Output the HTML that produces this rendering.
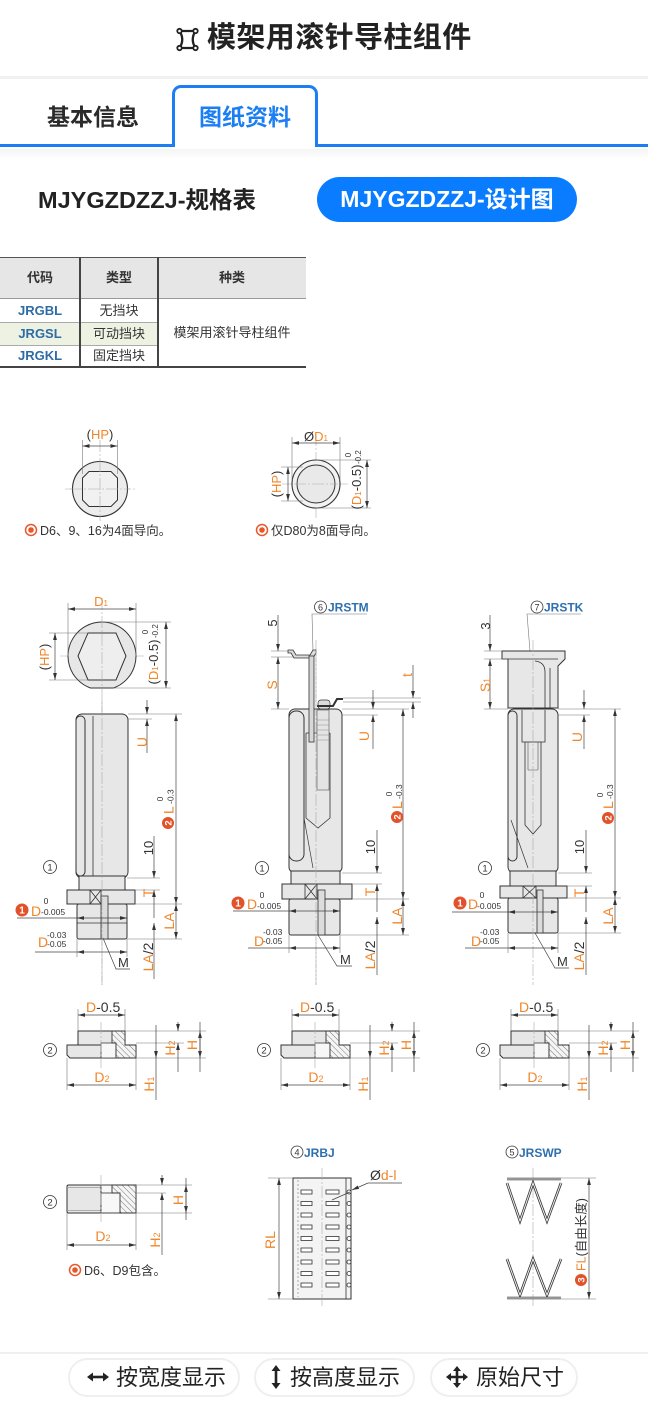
<!DOCTYPE html>
<html><head><meta charset="utf-8"><title>模架用滚针导柱组件</title>
<style>
*{margin:0;padding:0;box-sizing:border-box}
html,body{width:648px;height:1402px;background:#fff;overflow:hidden}
body{position:relative;font-family:"Liberation Sans","Noto Sans CJK SC",sans-serif;color:#222}
.a{position:absolute;white-space:nowrap}
.t{top:23px;left:207px;font-size:29px;line-height:30px;font-weight:bold;letter-spacing:0.4px;color:#222}
.sep{left:0;top:76px;width:648px;height:3px;background:#f1f1f1}
.tab1{left:47px;top:105px;font-size:23px;line-height:24px;font-weight:bold;color:#2a2a2a}
.bl{left:0;top:144px;width:648px;height:3px;background:#1b7ef2}
.tabbox{left:172px;top:85px;width:146px;height:62px;border:3px solid #1b7ef2;border-bottom:none;border-radius:9px 9px 0 0;background:#fff}
.tab2{left:199px;top:105px;font-size:23px;line-height:24px;font-weight:bold;color:#1b7ef2}
.sub{left:38px;top:188px;font-size:23.5px;line-height:24px;font-weight:bold;color:#222}
.pill{left:317px;top:177px;width:260px;height:45px;border-radius:23px;background:#0a7cff;color:#fff;font-size:23px;font-weight:bold;line-height:45px;text-align:center}
.cell{font-size:13px;line-height:14px;text-align:center;color:#333}
.btn{top:1358px;height:39px;border:2px solid #efefef;border-radius:20px;background:#fff}
.bt{font-size:22px;line-height:24px;color:#222}
svg text{font-family:"Liberation Sans","Noto Sans CJK SC",sans-serif}
</style></head><body>

<!-- header -->
<svg class="a" style="left:175px;top:27px" width="26" height="26" viewBox="175 27 26 26">
<path d="M179.5,31 L195.5,31 Q190,39.5 195.5,48 L179.5,48 Q185,39.5 179.5,31Z" fill="none" stroke="#222" stroke-width="2.3"/>
<circle cx="179.5" cy="31" r="2.2" fill="#fff" stroke="#222" stroke-width="1.8"/>
<circle cx="195.5" cy="31" r="2.2" fill="#fff" stroke="#222" stroke-width="1.8"/>
<circle cx="179.5" cy="48" r="2.2" fill="#fff" stroke="#222" stroke-width="1.8"/>
<circle cx="195.5" cy="48" r="2.2" fill="#fff" stroke="#222" stroke-width="1.8"/>
</svg>
<div class="a t">模架用滚针导柱组件</div>
<div class="a sep"></div>
<div class="a tab1">基本信息</div>
<div class="a bl"></div>
<div class="a tabbox"></div>
<div class="a tab2">图纸资料</div>
<div class="a" style="left:0;top:149px;width:648px;height:10px;background:linear-gradient(#f4f4f4,#fff)"></div>
<div class="a sub">MJYGZDZZJ-规格表</div>
<div class="a pill">MJYGZDZZJ-设计图</div>

<!-- table -->
<div class="a" style="left:0;top:257px;width:306px;height:42px;background:#e6e6e6;border-top:1.5px solid #555;border-bottom:1px solid #999"></div>
<div class="a" style="left:0;top:322px;width:158px;height:23px;background:#eef2e3"></div>
<div class="a" style="left:0;top:322px;width:158px;height:1px;background:#aaa"></div>
<div class="a" style="left:0;top:345px;width:158px;height:1px;background:#aaa"></div>
<div class="a" style="left:0;top:366px;width:306px;height:2px;background:#444"></div>
<div class="a" style="left:79px;top:257px;width:1.5px;height:110px;background:#444"></div>
<div class="a" style="left:157px;top:257px;width:1.5px;height:110px;background:#444"></div>
<div class="a cell" style="left:0;top:271px;width:80px;font-weight:bold">代码</div>
<div class="a cell" style="left:80px;top:271px;width:78px;font-weight:bold">类型</div>
<div class="a cell" style="left:158px;top:271px;width:148px;font-weight:bold">种类</div>
<div class="a cell" style="left:0;top:304px;width:80px;font-weight:bold;color:#2d6ca5">JRGBL</div>
<div class="a cell" style="left:0;top:327px;width:80px;font-weight:bold;color:#2d6ca5">JRGSL</div>
<div class="a cell" style="left:0;top:349px;width:80px;font-weight:bold;color:#2d6ca5">JRGKL</div>
<div class="a cell" style="left:80px;top:304px;width:78px">无挡块</div>
<div class="a cell" style="left:80px;top:327px;width:78px">可动挡块</div>
<div class="a cell" style="left:80px;top:349px;width:78px">固定挡块</div>
<div class="a cell" style="left:158px;top:326px;width:148px">模架用滚针导柱组件</div>

<!-- drawings -->
<svg class="a" style="left:0;top:0" width="648" height="1402" viewBox="0 0 648 1402">
<defs>
<marker id="ar" viewBox="0 0 10 10" refX="10" refY="5" markerUnits="userSpaceOnUse" markerWidth="7" markerHeight="7" orient="auto-start-reverse"><path d="M0,2.3 L10,5 L0,7.7z" fill="#333"/></marker>
<pattern id="h" width="4" height="4" patternUnits="userSpaceOnUse" patternTransform="rotate(-45)"><rect width="4" height="4" fill="#f5f5f5"/><line x1="0" y1="0" x2="0" y2="4" stroke="#555" stroke-width="0.8"/></pattern>
<style>
.o{fill:#f0862a}.k{fill:#333}
.d{stroke:#444;stroke-width:.7;fill:none}
.e{stroke:#777;stroke-width:.6;fill:none}
.c{stroke:#aaa;stroke-width:.6;fill:none;stroke-dasharray:12 2 2 2}
.p{fill:#e7e7e7;stroke:#333;stroke-width:1}
.w{fill:none;stroke:#333;stroke-width:.8}
.bn{fill:#2e6fb0;font-weight:bold;font-size:12px}
</style>
</defs>

<!-- ===== top views ===== -->
<line class="c" x1="65" y1="489" x2="136" y2="489"/>
<line class="c" x1="100" y1="440" x2="100" y2="521"/>
<circle cx="100" cy="489" r="27.5" fill="#ececec" stroke="#333" stroke-width="1.1"/>
<polygon points="89,471.5 111,471.5 117.5,478 117.5,500 111,506.5 89,506.5 82.5,500 82.5,478" fill="#f1f1f1" stroke="#333" stroke-width="1"/>
<line class="c" x1="70" y1="489" x2="130" y2="489"/>
<line class="c" x1="100" y1="460" x2="100" y2="518"/>
<line class="e" x1="82.5" y1="440" x2="82.5" y2="474"/>
<line class="e" x1="117.5" y1="440" x2="117.5" y2="474"/>
<line class="d" x1="82.5" y1="446" x2="117.5" y2="446" marker-start="url(#ar)" marker-end="url(#ar)"/>
<text x="100" y="439" text-anchor="middle" font-size="13" class="k">(<tspan class="o">HP</tspan>)</text>
<circle cx="31" cy="530" r="5.5" fill="none" stroke="#e8572a" stroke-width="1.5"/><circle cx="31" cy="530" r="2.8" fill="#e8572a"/>
<text x="40" y="535" font-size="12.5" class="k">D6、9、16为4面导向。</text>

<line class="c" x1="282" y1="484" x2="348" y2="484"/>
<line class="c" x1="316" y1="434" x2="316" y2="518"/>
<circle cx="316" cy="484" r="24" fill="#f2f2f2" stroke="#333" stroke-width="1.1"/>
<circle cx="316" cy="484" r="19" fill="#e9e9e9" stroke="#333" stroke-width="1"/>
<line class="c" x1="294" y1="484" x2="338" y2="484"/>
<line class="e" x1="292" y1="437" x2="292" y2="480"/>
<line class="e" x1="340" y1="437" x2="340" y2="480"/>
<line class="d" x1="292" y1="443" x2="340" y2="443" marker-start="url(#ar)" marker-end="url(#ar)"/>
<text x="316" y="441" text-anchor="middle" font-size="13" class="k">Ø<tspan class="o">D<tspan font-size="8">1</tspan></tspan></text>
<line class="e" x1="316" y1="460" x2="371" y2="460"/>
<line class="e" x1="316" y1="508" x2="371" y2="508"/>
<line class="d" x1="367" y1="460" x2="367" y2="508" marker-start="url(#ar)" marker-end="url(#ar)"/>
<text transform="translate(361 487) rotate(-90)" text-anchor="middle" font-size="13" class="k">(<tspan class="o">D<tspan font-size="8">1</tspan></tspan>-0.5)</text>
<text transform="translate(351 455) rotate(-90)" text-anchor="middle" font-size="8" class="k">0</text>
<text transform="translate(361 464) rotate(-90)" font-size="8" class="k">-0.2</text>
<line class="e" x1="281" y1="467" x2="303" y2="467"/>
<line class="e" x1="281" y1="501" x2="303" y2="501"/>
<line class="d" x1="288" y1="467" x2="288" y2="501" marker-start="url(#ar)" marker-end="url(#ar)"/>
<text transform="translate(281 484) rotate(-90)" text-anchor="middle" font-size="13" class="k">(<tspan class="o">HP</tspan>)</text>
<circle cx="262" cy="530" r="5.5" fill="none" stroke="#e8572a" stroke-width="1.5"/><circle cx="262" cy="530" r="2.8" fill="#e8572a"/>
<text x="271" y="535" font-size="12.5" class="k">仅D80为8面导向。</text>

<!-- ===== Column 1 ===== -->
<line class="c" x1="60" y1="656" x2="146" y2="656"/>
<path class="p" d="M90.5 688 A34 34 0 1 1 113.5 688 Z" fill="#ebebeb"/>
<polygon points="78,656 88,633 116,633 126,656 116,680 88,680" fill="#eeeeee" stroke="#333" stroke-width="1"/>
<line class="c" x1="102" y1="598" x2="102" y2="985"/>
<line class="e" x1="68" y1="603" x2="68" y2="656"/><line class="e" x1="136" y1="603" x2="136" y2="656"/>
<line class="d" x1="68" y1="609" x2="136" y2="609" marker-start="url(#ar)" marker-end="url(#ar)"/>
<text x="101" y="606" text-anchor="middle" font-size="13" class="o">D<tspan font-size="8">1</tspan></text>
<line class="e" x1="49" y1="633" x2="88" y2="633"/><line class="e" x1="49" y1="680" x2="88" y2="680"/>
<line class="d" x1="55" y1="633" x2="55" y2="680" marker-start="url(#ar)" marker-end="url(#ar)"/>
<text transform="translate(49 657) rotate(-90)" text-anchor="middle" font-size="13" class="k">(<tspan class="o">HP</tspan>)</text>
<line class="e" x1="102" y1="622" x2="171" y2="622"/><line class="e" x1="113" y1="688" x2="171" y2="688"/>
<line class="d" x1="166" y1="622" x2="166" y2="688" marker-start="url(#ar)" marker-end="url(#ar)"/>
<text transform="translate(158 662) rotate(-90)" text-anchor="middle" font-size="13" class="k">(<tspan class="o">D<tspan font-size="8">1</tspan></tspan>-0.5)</text>
<text transform="translate(148 632) rotate(-90)" text-anchor="middle" font-size="8" class="k">0</text>
<text transform="translate(158 638) rotate(-90)" font-size="8" class="k">-0.2</text>

<rect class="p" x="76" y="714" width="52" height="164" rx="6"/>
<rect class="p" x="76" y="716" width="9" height="160" rx="4.5"/>
<line x1="93" y1="716" x2="93" y2="876" stroke="#333" stroke-width=".8"/>
<rect class="p" x="79" y="876" width="46" height="15"/>
<rect class="p" x="67" y="890" width="68" height="14"/>
<rect x="90" y="890" width="11" height="14" class="w"/><path d="M90 890 L101 904 M101 890 L90 904" class="w"/>
<rect class="p" x="77" y="904" width="50" height="35" rx="2"/>
<rect x="101" y="896" width="7" height="43" fill="#dcdcdc" stroke="#333" stroke-width=".8"/>
<line x1="77" y1="923" x2="127" y2="923" stroke="#333" stroke-width=".7"/>
<line class="c" x1="102" y1="700" x2="102" y2="985"/>
<!-- dims col1 -->
<line class="e" x1="128" y1="714" x2="182" y2="714"/>
<line class="e" x1="135" y1="904" x2="182" y2="904"/>
<line class="e" x1="127" y1="939" x2="182" y2="939"/>
<line class="e" x1="127" y1="878" x2="160" y2="878"/>
<line class="e" x1="135" y1="890" x2="160" y2="890"/>
<line class="d" x1="176" y1="714" x2="176" y2="904" marker-start="url(#ar)" marker-end="url(#ar)"/>
<line class="d" x1="176" y1="904" x2="176" y2="939" marker-start="url(#ar)" marker-end="url(#ar)"/>
<line class="d" x1="147" y1="700" x2="147" y2="714" marker-end="url(#ar)"/>
<line class="d" x1="147" y1="719" x2="147" y2="753" marker-start="url(#ar)"/>
<line class="e" x1="128" y1="719" x2="152" y2="719"/>
<text transform="translate(147 742) rotate(-90)" text-anchor="middle" font-size="14" class="o">U</text>
<line class="d" x1="154" y1="836" x2="154" y2="878" marker-end="url(#ar)"/>
<line class="d" x1="154" y1="890" x2="154" y2="904" marker-start="url(#ar)"/>
<line class="d" x1="154" y1="904" x2="154" y2="918"/>
<line class="d" x1="154" y1="923" x2="154" y2="979" marker-start="url(#ar)"/>
<text transform="translate(153 848) rotate(-90)" text-anchor="middle" font-size="13" class="k">10</text>
<text transform="translate(153 893) rotate(-90)" text-anchor="middle" font-size="14" class="o">T</text>
<text transform="translate(153 957) rotate(-90)" text-anchor="middle" font-size="14" class="o">LA<tspan class="k">/2</tspan></text>
<text transform="translate(174 921) rotate(-90)" text-anchor="middle" font-size="14" class="o">LA</text>
<circle cx="168" cy="823" r="6" fill="#e2522a"/><text transform="translate(171.5 823) rotate(-90)" text-anchor="middle" font-size="9.5" font-weight="bold" fill="#fff">2</text>
<text transform="translate(173.5 814) rotate(-90)" font-size="14" class="o">L</text>
<text transform="translate(173.5 804) rotate(-90)" font-size="8.5" class="k">-0.3</text>
<text transform="translate(163 799) rotate(-90)" text-anchor="middle" font-size="8.5" class="k">0</text>
<circle cx="50" cy="867" r="6.5" class="w"/><text x="50" y="870.5" text-anchor="middle" font-size="9.5" class="k">1</text>
<circle cx="22" cy="910" r="6.5" fill="#e2522a"/><text x="22" y="913.5" text-anchor="middle" font-size="10" font-weight="bold" fill="#fff">1</text>
<text x="31" y="916" font-size="14" class="o">D</text>
<text x="46" y="904" text-anchor="middle" font-size="8.5" class="k">0</text>
<text x="41" y="915" font-size="8.5" class="k">-0.005</text>
<line class="d" x1="17" y1="918" x2="77" y2="918"/>
<line class="d" x1="77" y1="918" x2="127" y2="918" marker-start="url(#ar)" marker-end="url(#ar)"/>
<text x="38" y="947" font-size="14" class="o">D</text>
<text x="47" y="938" font-size="8.5" class="k">-0.03</text>
<text x="47" y="947" font-size="8.5" class="k">-0.05</text>
<line class="e" x1="77" y1="939" x2="77" y2="957"/><line class="e" x1="127" y1="939" x2="127" y2="957"/>
<line class="d" x1="35" y1="952" x2="77" y2="952"/>
<line class="d" x1="77" y1="952" x2="127" y2="952" marker-start="url(#ar)" marker-end="url(#ar)"/>
<polyline points="103,938 116,969 130,969" class="d"/>
<text x="118" y="967" font-size="13" class="k">M</text>

<!-- ===== Column 2 ===== -->
<line class="c" x1="316" y1="640" x2="316" y2="985"/>
<circle cx="320.5" cy="607" r="6" class="w"/><text x="320.5" y="610.5" text-anchor="middle" font-size="9" class="k">6</text>
<text x="328" y="611.5" class="bn">JRSTM</text>
<polyline points="367,614 312,614 313,651" class="e"/>
<polygon points="288,650 293,650 296,655 310,655 313,650 316,650 316,653 313,658 294,658 291,653 288,653" fill="#dcdcdc" stroke="#333" stroke-width=".8"/>
<rect class="p" x="289" y="709" width="53" height="164" rx="6"/>
<rect class="p" x="289" y="711" width="15" height="150" rx="7"/>
<path d="M306 733 L306 818 L318 828 L330 818 L330 733" class="w" fill="#e0e0e0"/>
<line x1="306" y1="733" x2="330" y2="733" stroke="#333" stroke-width=".8"/>
<rect x="317" y="710" width="12" height="80" fill="#e4e4e4" stroke="#555" stroke-width=".6"/>
<path d="M317 720h12M317 725h12M317 730h12M317 735h12M317 740h12" stroke="#777" stroke-width=".4"/>
<rect x="309" y="656" width="5" height="86" fill="#d8d8d8" stroke="#333" stroke-width=".8"/>
<rect x="318" y="700" width="12" height="9" rx="3" fill="#ddd" stroke="#333" stroke-width=".7"/>
<polyline points="317,706 333,706 337,699 343,699" fill="none" stroke="#333" stroke-width="2"/>
<line x1="304" y1="818" x2="313" y2="868" stroke="#333" stroke-width=".7"/>
<rect class="p" x="291" y="871" width="49" height="14"/>
<rect class="p" x="282" y="884" width="70" height="15"/>
<rect x="305" y="884" width="12" height="15" class="w"/><path d="M305 884 L317 899 M317 884 L305 899" class="w"/>
<rect class="p" x="289" y="899" width="51" height="36" rx="2"/>
<rect x="318" y="890" width="7" height="45" fill="#dcdcdc" stroke="#333" stroke-width=".8"/>
<line class="c" x1="316" y1="650" x2="316" y2="985"/>
<!-- dims col2 -->
<line class="e" x1="271" y1="651" x2="288" y2="651"/>
<line class="e" x1="271" y1="657" x2="293" y2="657"/>
<line class="e" x1="271" y1="709" x2="289" y2="709"/>
<line class="d" x1="278" y1="615" x2="278" y2="651" marker-end="url(#ar)"/>
<line class="d" x1="278" y1="657" x2="278" y2="709" marker-start="url(#ar)" marker-end="url(#ar)"/>
<text transform="translate(277 623) rotate(-90)" text-anchor="middle" font-size="13" class="k">5</text>
<text transform="translate(277 685) rotate(-90)" text-anchor="middle" font-size="14" class="o">S</text>
<line class="e" x1="343" y1="698" x2="421" y2="698"/>
<line class="e" x1="343" y1="702" x2="421" y2="702"/>
<line class="e" x1="342" y1="709" x2="409" y2="709"/>
<line class="d" x1="413" y1="665" x2="413" y2="698" marker-end="url(#ar)"/>
<line class="d" x1="413" y1="702" x2="413" y2="718" marker-start="url(#ar)"/>
<text transform="translate(412 675) rotate(-90)" text-anchor="middle" font-size="14" class="o">t</text>
<line class="d" x1="373" y1="690" x2="373" y2="709" marker-end="url(#ar)"/>
<line class="d" x1="373" y1="715" x2="373" y2="749" marker-start="url(#ar)"/>
<line class="e" x1="342" y1="715" x2="378" y2="715"/>
<text transform="translate(369 736) rotate(-90)" text-anchor="middle" font-size="14" class="o">U</text>
<line class="e" x1="342" y1="873" x2="382" y2="873"/>
<line class="e" x1="352" y1="884" x2="382" y2="884"/>
<line class="e" x1="352" y1="899" x2="409" y2="899"/>
<line class="e" x1="340" y1="935" x2="409" y2="935"/>
<line class="d" x1="403" y1="709" x2="403" y2="899" marker-start="url(#ar)" marker-end="url(#ar)"/>
<line class="d" x1="403" y1="899" x2="403" y2="935" marker-start="url(#ar)" marker-end="url(#ar)"/>
<line class="d" x1="377" y1="830" x2="377" y2="873" marker-end="url(#ar)"/>
<line class="d" x1="377" y1="884" x2="377" y2="899" marker-start="url(#ar)"/>
<line class="d" x1="377" y1="899" x2="377" y2="912"/>
<line class="d" x1="377" y1="917" x2="377" y2="975" marker-start="url(#ar)"/>
<text transform="translate(375 847) rotate(-90)" text-anchor="middle" font-size="13" class="k">10</text>
<text transform="translate(375 892) rotate(-90)" text-anchor="middle" font-size="14" class="o">T</text>
<text transform="translate(375 955) rotate(-90)" text-anchor="middle" font-size="14" class="o">LA<tspan class="k">/2</tspan></text>
<text transform="translate(402 916) rotate(-90)" text-anchor="middle" font-size="14" class="o">LA</text>
<circle cx="397" cy="817" r="6" fill="#e2522a"/><text transform="translate(400.5 817) rotate(-90)" text-anchor="middle" font-size="9.5" font-weight="bold" fill="#fff">2</text>
<text transform="translate(402 809) rotate(-90)" font-size="14" class="o">L</text>
<text transform="translate(402 799) rotate(-90)" font-size="8.5" class="k">-0.3</text>
<text transform="translate(392 794) rotate(-90)" text-anchor="middle" font-size="8.5" class="k">0</text>
<circle cx="262" cy="868" r="6.5" class="w"/><text x="262" y="871.5" text-anchor="middle" font-size="9.5" class="k">1</text>
<circle cx="238" cy="903" r="6.5" fill="#e2522a"/><text x="238" y="906.5" text-anchor="middle" font-size="10" font-weight="bold" fill="#fff">1</text>
<text x="247" y="909" font-size="14" class="o">D</text>
<text x="262" y="898" text-anchor="middle" font-size="8.5" class="k">0</text>
<text x="257" y="909" font-size="8.5" class="k">-0.005</text>
<line class="d" x1="233" y1="911" x2="289" y2="911"/>
<line class="d" x1="289" y1="911" x2="340" y2="911" marker-start="url(#ar)" marker-end="url(#ar)"/>
<text x="254" y="946" font-size="14" class="o">D</text>
<text x="263" y="935" font-size="8.5" class="k">-0.03</text>
<text x="263" y="944" font-size="8.5" class="k">-0.05</text>
<line class="e" x1="289" y1="935" x2="289" y2="953"/><line class="e" x1="340" y1="935" x2="340" y2="953"/>
<line class="d" x1="248" y1="948" x2="289" y2="948"/>
<line class="d" x1="289" y1="948" x2="340" y2="948" marker-start="url(#ar)" marker-end="url(#ar)"/>
<polyline points="318,935 337,966 352,966" class="d"/>
<text x="340" y="964" font-size="13" class="k">M</text>

<!-- ===== Column 3 ===== -->
<circle cx="537" cy="607" r="6" class="w"/><text x="537" y="610.5" text-anchor="middle" font-size="9" class="k">7</text>
<text x="544" y="611.5" class="bn">JRSTK</text>
<polyline points="581,614 527,614 530,651" class="e"/>
<rect class="p" x="508" y="709" width="50" height="164" rx="6"/>
<rect class="p" x="508" y="711" width="9" height="150" rx="4.5"/>
<path d="M522 710 L522 742 L525 742 L525 825 L533 834 L541 825 L541 742 L545 742 L545 710" class="w" fill="#e0e0e0"/>
<line x1="525" y1="742" x2="541" y2="742" stroke="#333" stroke-width=".8"/>
<path d="M528 742V770M538 742V770M528 770h10" stroke="#555" stroke-width=".6" fill="none"/>
<line x1="511" y1="820" x2="528" y2="868" stroke="#333" stroke-width=".7"/>
<polygon class="p" points="502,651 565,651 565,659 558,666 558,708 508,708 508,659 502,659"/>
<line x1="508" y1="659" x2="558" y2="659" stroke="#333" stroke-width=".8"/>
<path d="M545 708V672 Q545 662 535 661M550 708V668" class="w"/>
<rect class="p" x="510" y="871" width="46" height="15"/>
<rect class="p" x="500" y="886" width="67" height="12"/>
<rect x="523" y="886" width="13" height="12" class="w"/><path d="M523 886 L536 898 M536 886 L523 898" class="w"/>
<rect class="p" x="508" y="898" width="50" height="35" rx="2"/>
<rect x="537" y="890" width="6" height="43" fill="#dcdcdc" stroke="#333" stroke-width=".8"/>
<line class="c" x1="533" y1="640" x2="533" y2="985"/>
<!-- dims col3 -->
<line class="e" x1="484" y1="651" x2="502" y2="651"/>
<line class="e" x1="484" y1="659" x2="508" y2="659"/>
<line class="e" x1="484" y1="709" x2="508" y2="709"/>
<line class="d" x1="490" y1="615" x2="490" y2="651" marker-end="url(#ar)"/>
<line class="d" x1="490" y1="659" x2="490" y2="709" marker-start="url(#ar)" marker-end="url(#ar)"/>
<text transform="translate(490 626) rotate(-90)" text-anchor="middle" font-size="13" class="k">3</text>
<text transform="translate(490 685) rotate(-90)" text-anchor="middle" font-size="14" class="o">S<tspan font-size="9">1</tspan></text>
<line class="e" x1="558" y1="709" x2="621" y2="709"/>
<line class="e" x1="558" y1="715" x2="590" y2="715"/>
<line class="d" x1="584" y1="690" x2="584" y2="709" marker-end="url(#ar)"/>
<line class="d" x1="584" y1="715" x2="584" y2="749" marker-start="url(#ar)"/>
<text transform="translate(582 737) rotate(-90)" text-anchor="middle" font-size="14" class="o">U</text>
<line class="e" x1="558" y1="873" x2="592" y2="873"/>
<line class="e" x1="567" y1="886" x2="592" y2="886"/>
<line class="e" x1="567" y1="898" x2="621" y2="898"/>
<line class="e" x1="558" y1="933" x2="621" y2="933"/>
<line class="d" x1="615" y1="709" x2="615" y2="898" marker-start="url(#ar)" marker-end="url(#ar)"/>
<line class="d" x1="615" y1="898" x2="615" y2="933" marker-start="url(#ar)" marker-end="url(#ar)"/>
<line class="d" x1="586" y1="830" x2="586" y2="873" marker-end="url(#ar)"/>
<line class="d" x1="586" y1="886" x2="586" y2="898" marker-start="url(#ar)"/>
<line class="d" x1="586" y1="898" x2="586" y2="912"/>
<line class="d" x1="586" y1="917" x2="586" y2="975" marker-start="url(#ar)"/>
<text transform="translate(584 847) rotate(-90)" text-anchor="middle" font-size="13" class="k">10</text>
<text transform="translate(584 893) rotate(-90)" text-anchor="middle" font-size="14" class="o">T</text>
<text transform="translate(584 956) rotate(-90)" text-anchor="middle" font-size="14" class="o">LA<tspan class="k">/2</tspan></text>
<text transform="translate(613 916) rotate(-90)" text-anchor="middle" font-size="14" class="o">LA</text>
<circle cx="608" cy="818" r="6" fill="#e2522a"/><text transform="translate(611.5 818) rotate(-90)" text-anchor="middle" font-size="9.5" font-weight="bold" fill="#fff">2</text>
<text transform="translate(613 809) rotate(-90)" font-size="14" class="o">L</text>
<text transform="translate(613 799) rotate(-90)" font-size="8.5" class="k">-0.3</text>
<text transform="translate(603 795) rotate(-90)" text-anchor="middle" font-size="8.5" class="k">0</text>
<circle cx="485" cy="868" r="6.5" class="w"/><text x="485" y="871.5" text-anchor="middle" font-size="9.5" class="k">1</text>
<circle cx="460" cy="903" r="6.5" fill="#e2522a"/><text x="460" y="906.5" text-anchor="middle" font-size="10" font-weight="bold" fill="#fff">1</text>
<text x="468" y="909" font-size="14" class="o">D</text>
<text x="482" y="898" text-anchor="middle" font-size="8.5" class="k">0</text>
<text x="477" y="909" font-size="8.5" class="k">-0.005</text>
<line class="d" x1="452" y1="912" x2="508" y2="912"/>
<line class="d" x1="508" y1="912" x2="558" y2="912" marker-start="url(#ar)" marker-end="url(#ar)"/>
<text x="471" y="946" font-size="14" class="o">D</text>
<text x="480" y="935" font-size="8.5" class="k">-0.03</text>
<text x="480" y="944" font-size="8.5" class="k">-0.05</text>
<line class="e" x1="508" y1="933" x2="508" y2="953"/><line class="e" x1="558" y1="933" x2="558" y2="953"/>
<line class="d" x1="465" y1="948" x2="508" y2="948"/>
<line class="d" x1="508" y1="948" x2="558" y2="948" marker-start="url(#ar)" marker-end="url(#ar)"/>
<polyline points="535,933 555,968 569,968" class="d"/>
<text x="557" y="966" font-size="13" class="k">M</text>

<!-- ===== Washers row ===== -->
<g>
<circle cx="50" cy="1050" r="6.5" class="w"/><text x="50" y="1053.5" text-anchor="middle" font-size="9.5" class="k">2</text>
<path d="M67,1045 L136,1045 L136,1058 L70,1058 L67,1055Z" class="p"/>
<rect class="p" x="78" y="1031" width="47" height="14"/>
<polygon points="101,1043 116,1043 116,1058 101,1058" fill="#f7f7f7" stroke="#333" stroke-width=".8"/>
<polygon points="112,1031 125,1031 125,1045 136,1045 136,1058 116,1058 116,1043 112,1043" fill="url(#h)" stroke="#333" stroke-width=".9"/>
<line class="c" x1="101" y1="1022" x2="101" y2="1068"/>
<line class="e" x1="78" y1="1009" x2="78" y2="1031"/><line class="e" x1="125" y1="1009" x2="125" y2="1031"/>
<line class="d" x1="78" y1="1015" x2="125" y2="1015" marker-start="url(#ar)" marker-end="url(#ar)"/>
<text x="86" y="1012" font-size="14" class="o">D<tspan class="k">-0.5</tspan></text>
<line class="e" x1="67" y1="1058" x2="67" y2="1090"/><line class="e" x1="136" y1="1058" x2="136" y2="1090"/>
<line class="d" x1="67" y1="1085" x2="136" y2="1085" marker-start="url(#ar)" marker-end="url(#ar)"/>
<text x="102" y="1082" text-anchor="middle" font-size="14" class="o">D<tspan font-size="9">2</tspan></text>
<line class="e" x1="125" y1="1031" x2="206" y2="1031"/>
<line class="e" x1="136" y1="1043" x2="184" y2="1043"/>
<line class="e" x1="136" y1="1058" x2="206" y2="1058"/>
<line class="d" x1="200" y1="1031" x2="200" y2="1058" marker-start="url(#ar)" marker-end="url(#ar)"/>
<line class="d" x1="200" y1="1022" x2="200" y2="1072"/>
<line class="d" x1="178" y1="1022" x2="178" y2="1031" marker-end="url(#ar)"/>
<line class="d" x1="178" y1="1043" x2="178" y2="1072" marker-start="url(#ar)"/>
<line class="d" x1="156" y1="1025" x2="156" y2="1058" marker-end="url(#ar)"/>
<line class="d" x1="156" y1="1058" x2="156" y2="1100"/>
<text transform="translate(197 1045) rotate(-90)" text-anchor="middle" font-size="14" class="o">H</text>
<text transform="translate(175 1048) rotate(-90)" text-anchor="middle" font-size="14" class="o">H<tspan font-size="9">2</tspan></text>
<text transform="translate(154 1084) rotate(-90)" text-anchor="middle" font-size="14" class="o">H<tspan font-size="9">1</tspan></text>
</g>
<g transform="translate(214 0)">
<circle cx="50" cy="1050" r="6.5" class="w"/><text x="50" y="1053.5" text-anchor="middle" font-size="9.5" class="k">2</text>
<path d="M67,1045 L136,1045 L136,1058 L70,1058 L67,1055Z" class="p"/>
<rect class="p" x="78" y="1031" width="47" height="14"/>
<polygon points="101,1043 116,1043 116,1058 101,1058" fill="#f7f7f7" stroke="#333" stroke-width=".8"/>
<polygon points="112,1031 125,1031 125,1045 136,1045 136,1058 116,1058 116,1043 112,1043" fill="url(#h)" stroke="#333" stroke-width=".9"/>
<line class="c" x1="101" y1="1022" x2="101" y2="1068"/>
<line class="e" x1="78" y1="1009" x2="78" y2="1031"/><line class="e" x1="125" y1="1009" x2="125" y2="1031"/>
<line class="d" x1="78" y1="1015" x2="125" y2="1015" marker-start="url(#ar)" marker-end="url(#ar)"/>
<text x="86" y="1012" font-size="14" class="o">D<tspan class="k">-0.5</tspan></text>
<line class="e" x1="67" y1="1058" x2="67" y2="1090"/><line class="e" x1="136" y1="1058" x2="136" y2="1090"/>
<line class="d" x1="67" y1="1085" x2="136" y2="1085" marker-start="url(#ar)" marker-end="url(#ar)"/>
<text x="102" y="1082" text-anchor="middle" font-size="14" class="o">D<tspan font-size="9">2</tspan></text>
<line class="e" x1="125" y1="1031" x2="206" y2="1031"/>
<line class="e" x1="136" y1="1043" x2="184" y2="1043"/>
<line class="e" x1="136" y1="1058" x2="206" y2="1058"/>
<line class="d" x1="200" y1="1031" x2="200" y2="1058" marker-start="url(#ar)" marker-end="url(#ar)"/>
<line class="d" x1="200" y1="1022" x2="200" y2="1072"/>
<line class="d" x1="178" y1="1022" x2="178" y2="1031" marker-end="url(#ar)"/>
<line class="d" x1="178" y1="1043" x2="178" y2="1072" marker-start="url(#ar)"/>
<line class="d" x1="156" y1="1025" x2="156" y2="1058" marker-end="url(#ar)"/>
<line class="d" x1="156" y1="1058" x2="156" y2="1100"/>
<text transform="translate(197 1045) rotate(-90)" text-anchor="middle" font-size="14" class="o">H</text>
<text transform="translate(175 1048) rotate(-90)" text-anchor="middle" font-size="14" class="o">H<tspan font-size="9">2</tspan></text>
<text transform="translate(154 1084) rotate(-90)" text-anchor="middle" font-size="14" class="o">H<tspan font-size="9">1</tspan></text>
</g>
<g transform="translate(433 0)">
<circle cx="50" cy="1050" r="6.5" class="w"/><text x="50" y="1053.5" text-anchor="middle" font-size="9.5" class="k">2</text>
<path d="M67,1045 L136,1045 L136,1058 L70,1058 L67,1055Z" class="p"/>
<rect class="p" x="78" y="1031" width="47" height="14"/>
<polygon points="101,1043 116,1043 116,1058 101,1058" fill="#f7f7f7" stroke="#333" stroke-width=".8"/>
<polygon points="112,1031 125,1031 125,1045 136,1045 136,1058 116,1058 116,1043 112,1043" fill="url(#h)" stroke="#333" stroke-width=".9"/>
<line class="c" x1="101" y1="1022" x2="101" y2="1068"/>
<line class="e" x1="78" y1="1009" x2="78" y2="1031"/><line class="e" x1="125" y1="1009" x2="125" y2="1031"/>
<line class="d" x1="78" y1="1015" x2="125" y2="1015" marker-start="url(#ar)" marker-end="url(#ar)"/>
<text x="86" y="1012" font-size="14" class="o">D<tspan class="k">-0.5</tspan></text>
<line class="e" x1="67" y1="1058" x2="67" y2="1090"/><line class="e" x1="136" y1="1058" x2="136" y2="1090"/>
<line class="d" x1="67" y1="1085" x2="136" y2="1085" marker-start="url(#ar)" marker-end="url(#ar)"/>
<text x="102" y="1082" text-anchor="middle" font-size="14" class="o">D<tspan font-size="9">2</tspan></text>
<line class="e" x1="125" y1="1031" x2="206" y2="1031"/>
<line class="e" x1="136" y1="1043" x2="184" y2="1043"/>
<line class="e" x1="136" y1="1058" x2="206" y2="1058"/>
<line class="d" x1="200" y1="1031" x2="200" y2="1058" marker-start="url(#ar)" marker-end="url(#ar)"/>
<line class="d" x1="200" y1="1022" x2="200" y2="1072"/>
<line class="d" x1="178" y1="1022" x2="178" y2="1031" marker-end="url(#ar)"/>
<line class="d" x1="178" y1="1043" x2="178" y2="1072" marker-start="url(#ar)"/>
<line class="d" x1="156" y1="1025" x2="156" y2="1058" marker-end="url(#ar)"/>
<line class="d" x1="156" y1="1058" x2="156" y2="1100"/>
<text transform="translate(197 1045) rotate(-90)" text-anchor="middle" font-size="14" class="o">H</text>
<text transform="translate(175 1048) rotate(-90)" text-anchor="middle" font-size="14" class="o">H<tspan font-size="9">2</tspan></text>
<text transform="translate(154 1084) rotate(-90)" text-anchor="middle" font-size="14" class="o">H<tspan font-size="9">1</tspan></text>
</g>

<!-- ===== D6/D9 washer ===== -->
<circle cx="50" cy="1202" r="6.5" class="w"/><text x="50" y="1205.5" text-anchor="middle" font-size="9.5" class="k">2</text>
<rect class="p" x="67" y="1185" width="34" height="28" rx="1.5"/>
<line x1="68" y1="1187.5" x2="101" y2="1187.5" stroke="#777" stroke-width=".6"/>
<line x1="68" y1="1210.5" x2="101" y2="1210.5" stroke="#777" stroke-width=".6"/>
<rect x="101" y="1185" width="35" height="28" fill="#f8f8f8" stroke="#333" stroke-width=".9"/>
<polygon points="112,1185 136,1185 136,1213 120,1213 120,1193 112,1193" fill="url(#h)" stroke="#333" stroke-width=".9"/>
<line x1="101" y1="1193" x2="112" y2="1193" stroke="#333" stroke-width=".8"/>
<line class="c" x1="101" y1="1175" x2="101" y2="1222"/>
<line class="e" x1="136" y1="1185" x2="192" y2="1185"/>
<line class="e" x1="136" y1="1193" x2="166" y2="1193"/>
<line class="e" x1="136" y1="1213" x2="192" y2="1213"/>
<line class="d" x1="186" y1="1185" x2="186" y2="1213" marker-start="url(#ar)" marker-end="url(#ar)"/>
<line class="d" x1="186" y1="1178" x2="186" y2="1220"/>
<line class="d" x1="162" y1="1175" x2="162" y2="1185" marker-end="url(#ar)"/>
<line class="d" x1="162" y1="1193" x2="162" y2="1255" marker-start="url(#ar)"/>
<text transform="translate(183 1200) rotate(-90)" text-anchor="middle" font-size="14" class="o">H</text>
<text transform="translate(160 1240) rotate(-90)" text-anchor="middle" font-size="14" class="o">H<tspan font-size="9">2</tspan></text>
<line class="e" x1="67" y1="1213" x2="67" y2="1250"/><line class="e" x1="136" y1="1213" x2="136" y2="1250"/>
<line class="d" x1="67" y1="1245" x2="136" y2="1245" marker-start="url(#ar)" marker-end="url(#ar)"/>
<text x="103" y="1241" text-anchor="middle" font-size="14" class="o">D<tspan font-size="9">2</tspan></text>
<circle cx="75" cy="1270" r="5.5" fill="none" stroke="#e8572a" stroke-width="1.5"/><circle cx="75" cy="1270" r="2.8" fill="#e8572a"/>
<text x="84" y="1275" font-size="12.5" class="k">D6、D9包含。</text>

<!-- ===== JRBJ ===== -->
<circle cx="297" cy="1152" r="6" class="w"/><text x="297" y="1155.5" text-anchor="middle" font-size="9" class="k">4</text>
<text x="304" y="1157" class="bn">JRBJ</text>
<rect x="293" y="1178" width="58" height="121" fill="#f4f4f4" stroke="#333" stroke-width="1"/>
<line x1="346" y1="1178" x2="346" y2="1299" stroke="#333" stroke-width=".8"/>
<line x1="298" y1="1180" x2="298" y2="1297" stroke="#777" stroke-width=".6" stroke-dasharray="2 2"/>
<line class="c" x1="322" y1="1168" x2="322" y2="1306"/>
<g fill="#fff" stroke="#333" stroke-width=".8">
<rect x="301" y="1190" width="11" height="4"/><rect x="326" y="1190" width="13" height="4"/><circle cx="349" cy="1192" r="2"/>
<rect x="301" y="1201.5" width="11" height="4"/><rect x="326" y="1201.5" width="13" height="4"/><circle cx="349" cy="1203.5" r="2"/>
<rect x="301" y="1213" width="11" height="4"/><rect x="326" y="1213" width="13" height="4"/><circle cx="349" cy="1215" r="2"/>
<rect x="301" y="1225" width="11" height="4"/><rect x="326" y="1225" width="13" height="4"/><circle cx="349" cy="1227" r="2"/>
<rect x="301" y="1236.5" width="11" height="4"/><rect x="326" y="1236.5" width="13" height="4"/><circle cx="349" cy="1238.5" r="2"/>
<rect x="301" y="1248" width="11" height="4"/><rect x="326" y="1248" width="13" height="4"/><circle cx="349" cy="1250" r="2"/>
<rect x="301" y="1260" width="11" height="4"/><rect x="326" y="1260" width="13" height="4"/><circle cx="349" cy="1262" r="2"/>
<rect x="301" y="1271.5" width="11" height="4"/><rect x="326" y="1271.5" width="13" height="4"/><circle cx="349" cy="1273.5" r="2"/>
<rect x="301" y="1283" width="11" height="4"/><rect x="326" y="1283" width="13" height="4"/><circle cx="349" cy="1285" r="2"/>
</g>
<line class="e" x1="268" y1="1178" x2="293" y2="1178"/>
<line class="e" x1="268" y1="1299" x2="293" y2="1299"/>
<line class="d" x1="279" y1="1178" x2="279" y2="1299" marker-start="url(#ar)" marker-end="url(#ar)"/>
<text transform="translate(275 1240) rotate(-90)" text-anchor="middle" font-size="14" class="o">RL</text>
<line class="d" x1="332" y1="1200" x2="350" y2="1192"/>
<line class="d" x1="368" y1="1183" x2="352" y2="1190" marker-end="url(#ar)"/>
<line class="d" x1="368" y1="1183" x2="402" y2="1183"/>
<text x="370" y="1180" font-size="14" class="k">Ø<tspan class="o">d-l</tspan></text>

<!-- ===== JRSWP ===== -->
<circle cx="512" cy="1152" r="6" class="w"/><text x="512" y="1155.5" text-anchor="middle" font-size="9" class="k">5</text>
<text x="519" y="1157" class="bn">JRSWP</text>
<line class="c" x1="533" y1="1168" x2="533" y2="1306"/>
<g fill="none" stroke="#333" stroke-width="2.6" stroke-linejoin="miter">
<polyline points="507,1179 561,1179"/>
<polyline points="507,1183 520,1221 533,1183 547,1221 561,1183"/>
<polyline points="507,1259 520,1295 533,1259 547,1295 561,1259"/>
<polyline points="507,1298 561,1298"/>
</g>
<g fill="none" stroke="#f4f4f4" stroke-width="1">
<polyline points="507,1179 561,1179"/>
<polyline points="507,1183 520,1221 533,1183 547,1221 561,1183"/>
<polyline points="507,1259 520,1295 533,1259 547,1295 561,1259"/>
<polyline points="507,1298 561,1298"/>
</g>
<line class="e" x1="561" y1="1178" x2="596" y2="1178"/>
<line class="e" x1="561" y1="1299" x2="596" y2="1299"/>
<line class="d" x1="589" y1="1178" x2="589" y2="1299" marker-start="url(#ar)" marker-end="url(#ar)"/>
<circle cx="581" cy="1280" r="6" fill="#e2522a"/><text transform="translate(584.5 1280) rotate(-90)" text-anchor="middle" font-size="9.5" font-weight="bold" fill="#fff">3</text>
<text transform="translate(585.5 1271) rotate(-90)" font-size="12.5" class="k"><tspan class="o">FL</tspan>(自由长度)</text>
</svg>

<!-- bottom bar -->
<div class="a" style="left:0;top:1352px;width:648px;height:2px;background:#efefef"></div>
<div class="a btn" style="left:68px;width:172px"></div>
<svg class="a" style="left:86px;top:1369px" width="24" height="16" viewBox="0 0 24 16"><path d="M5 8H19" stroke="#222" stroke-width="2.6"/><path d="M1 8L7 3.5V12.5Z M23 8L17 3.5V12.5Z" fill="#222"/></svg>
<div class="a bt" style="left:116px;top:1366px">按宽度显示</div>
<div class="a btn" style="left:254px;width:161px"></div>
<svg class="a" style="left:268px;top:1364px" width="16" height="26" viewBox="0 0 16 26"><path d="M8 5V21" stroke="#222" stroke-width="2.6"/><path d="M8 1L3.5 7H12.5Z M8 25L3.5 19H12.5Z" fill="#222"/></svg>
<div class="a bt" style="left:290px;top:1366px">按高度显示</div>
<div class="a btn" style="left:430px;width:148px"></div>
<svg class="a" style="left:446px;top:1366px" width="22" height="22" viewBox="0 0 22 22"><path d="M11 4V18M4 11H18" stroke="#222" stroke-width="2.6"/><path d="M11 0L7 5H15Z M11 22L7 17H15Z M0 11L5 7V15Z M22 11L17 7V15Z" fill="#222"/></svg>
<div class="a bt" style="left:476px;top:1366px">原始尺寸</div>
</body></html>
